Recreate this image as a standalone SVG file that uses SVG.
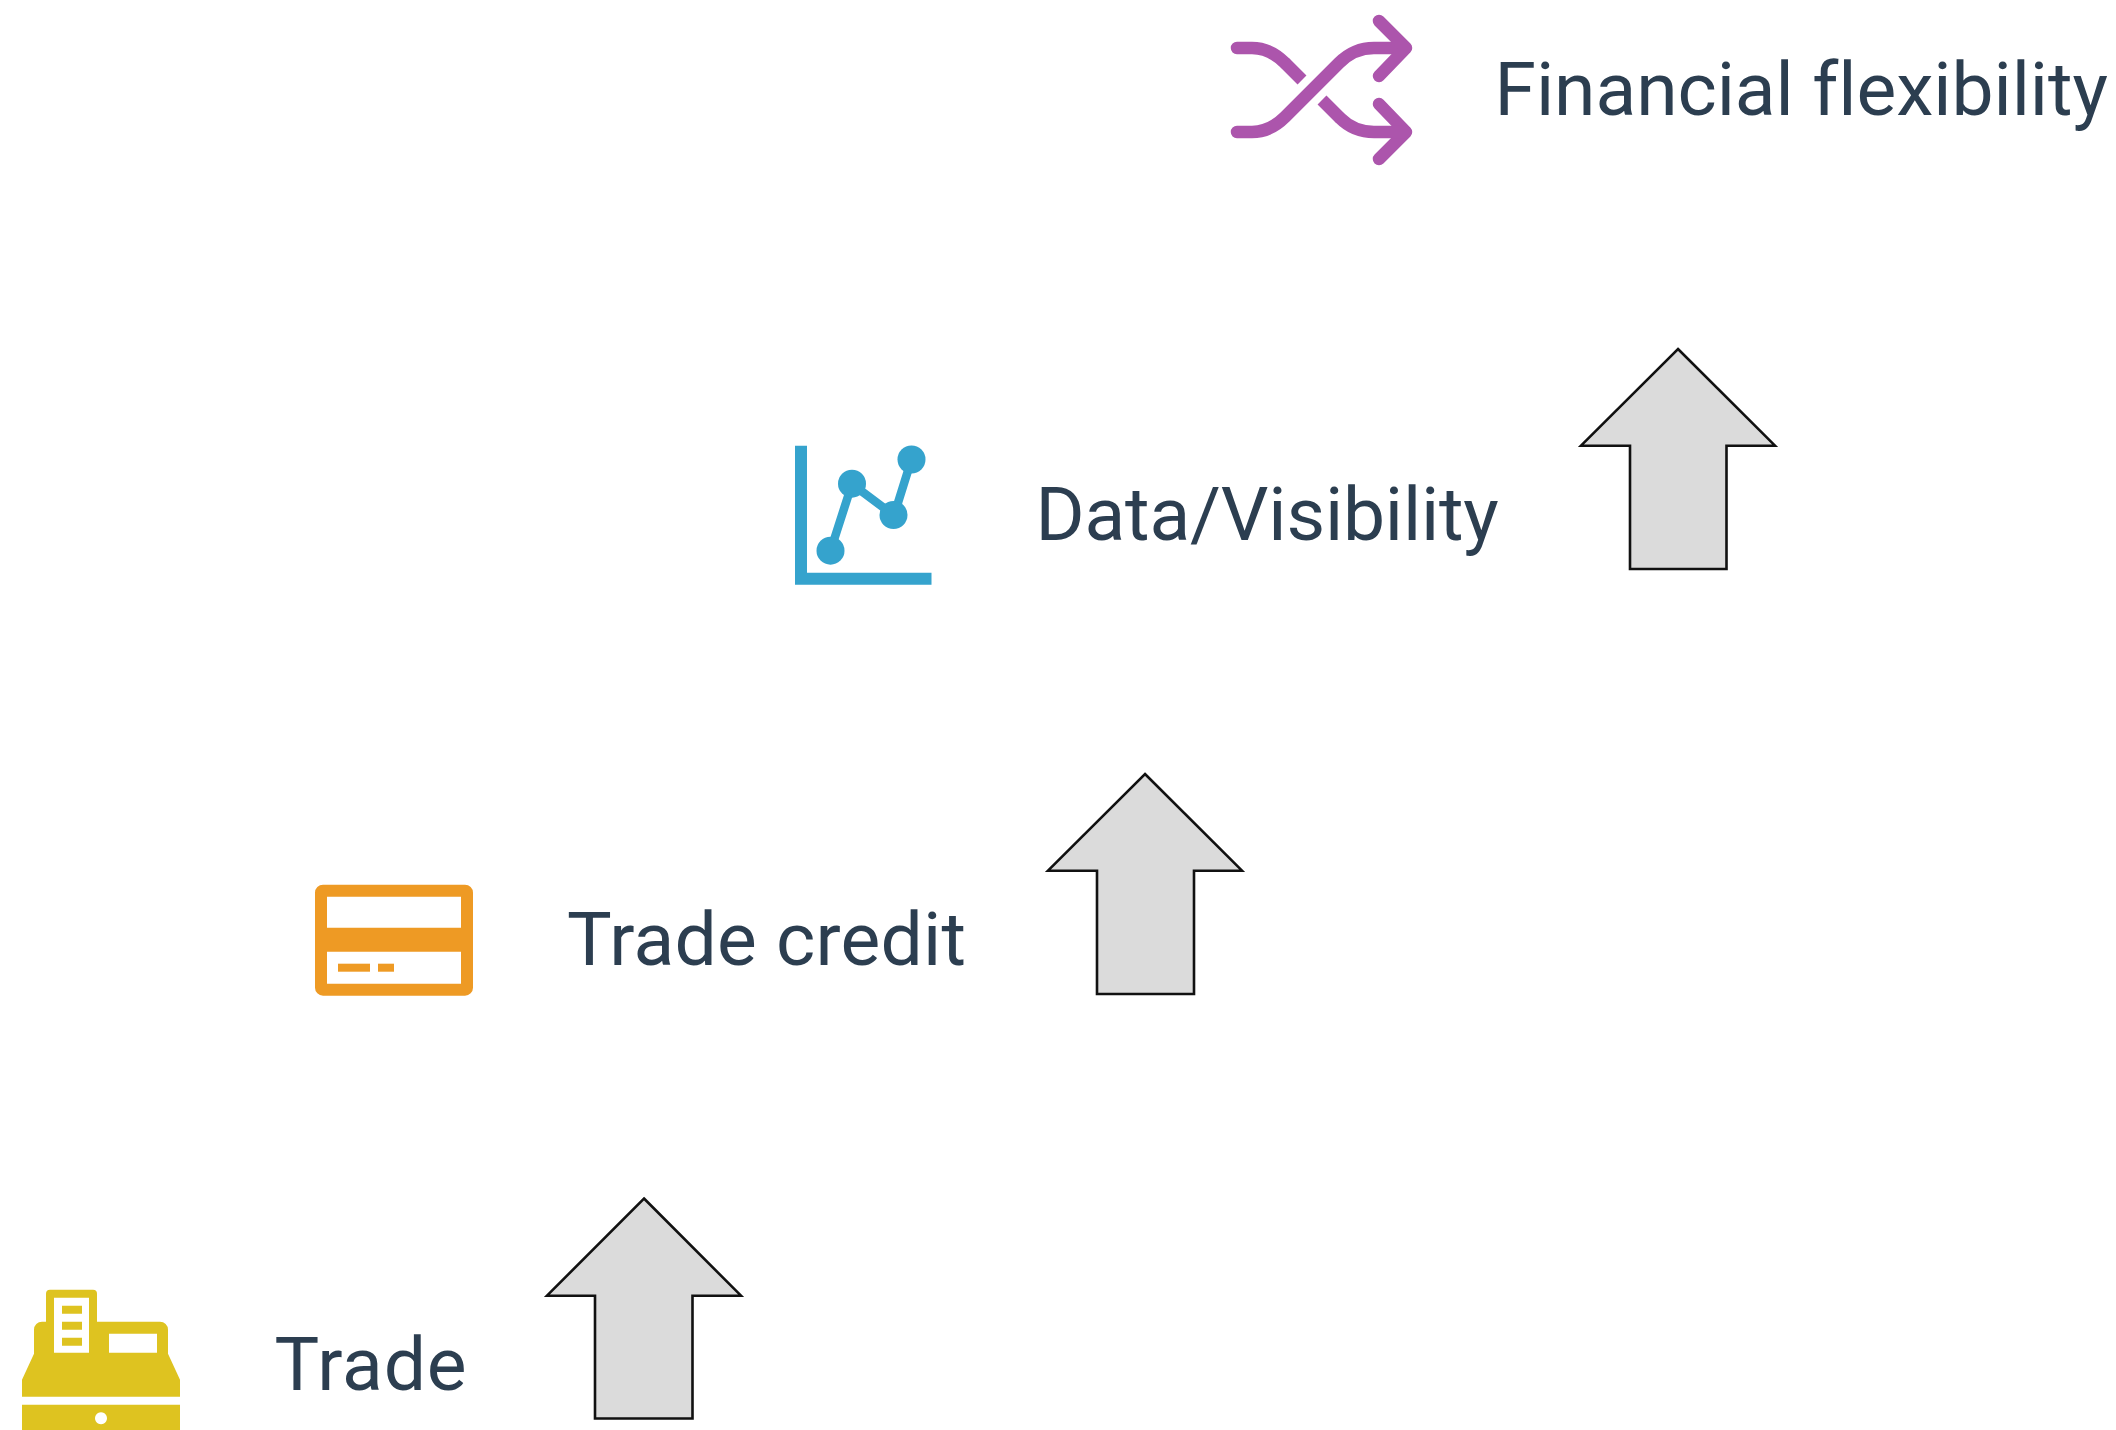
<svg xmlns="http://www.w3.org/2000/svg" width="2116" height="1430" viewBox="0 0 2116 1430">
<style>
.t{font-family:Roboto,"Liberation Sans",sans-serif;font-size:75px;fill:#2c3e50;font-variant-ligatures:none}
.a{fill:#dbdbdb;stroke:#111;stroke-width:2.6}
.s{fill:none;stroke:#ac55ac;stroke-width:12.500}
</style>
<rect width="2116" height="1430" fill="#fff"/>
<g id="connectors">
<path class="a" d="M644,1198.500L741,1295.700H692.500V1418.500H595V1295.700H547Z"/>
<path class="a" d="M1145,774L1242,870.700H1194V994H1097V870.700H1048Z"/>
<path class="a" d="M1678,349L1775,445.700H1726.500V569H1630V445.700H1581Z"/>
</g>
<g id="trade" transform="translate(0 0.700)">
<path fill="#dec320" fill-rule="evenodd" d="M46,1293a4,4 0 0 1 4,-4H93a4,4 0 0 1 4,4V1321H160a8,8 0 0 1 8,8V1353L180,1379V1396H22V1379L34,1353V1329a8,8 0 0 1 8,-8H46ZM54,1297V1352H89V1297ZM62,1305H82V1313H62ZM62,1321H82V1329H62ZM62,1337H82V1345H62ZM109,1333V1352H157V1333Z"/>
<path fill="#dec320" fill-rule="evenodd" d="M22,1404H180V1430H22ZM101,1411.500a6,6 0 1 0 0.010,0Z"/>
<text class="t" x="274.500" y="1389" letter-spacing="0.800">Trade</text>
</g>
<g id="trade-credit">
<path transform="translate(0 0.700)" fill="#ee9a24" fill-rule="evenodd" d="M323,884H465a8,8 0 0 1 8,8V987a8,8 0 0 1 -8,8H323a8,8 0 0 1 -8,-8V892a8,8 0 0 1 8,-8ZM327,896V927H461V896ZM327,951V983H461V951Z"/>
<rect x="338" y="963.700" width="32" height="8" fill="#ee9a24"/>
<rect x="378" y="963.700" width="16" height="8" fill="#ee9a24"/>
<text class="t" x="567" y="965" letter-spacing="0.250">Trade credit</text>
</g>
<g id="data-visibility">
<path fill="#35a3cd" d="M795,445.700H807V572.700H931.500V584.700H795Z"/>
<path fill="none" stroke="#35a3cd" stroke-width="8.500" d="M830.500,550.700L852,484L894,515.500L911.500,459.500"/>
<g fill="#35a3cd"><circle cx="830.500" cy="550.700" r="14"/><circle cx="852" cy="483.700" r="14"/><circle cx="893.500" cy="515" r="14"/><circle cx="911.500" cy="459.500" r="14"/></g>
<text class="t" x="1035.500" y="540" letter-spacing="-0.200">Data/Visibility</text>
</g>
<g id="financial-flexibility">
<path class="s" stroke-linecap="round" d="M1237,132H1252Q1270,132 1285,117L1339,63Q1354,48 1374,48H1405"/>
<path class="s" stroke-linecap="round" stroke-linejoin="round" d="M1379,21L1406,48L1379,76"/>
<path class="s" stroke-linecap="round" stroke-linejoin="round" d="M1379,104L1406,132L1379,159"/>
<path class="s" stroke-linecap="round" d="M1405,132H1374Q1354,132 1340,118"/>
<path class="s" d="M1340,118L1322,100"/>
<path class="s" stroke-linecap="round" d="M1237,48H1252Q1270,48 1285,63"/>
<path class="s" d="M1285,63L1302,80"/>
<text class="t" x="1494.500" y="115" letter-spacing="-0.070">Financial flexibility</text>
</g>
</svg>
